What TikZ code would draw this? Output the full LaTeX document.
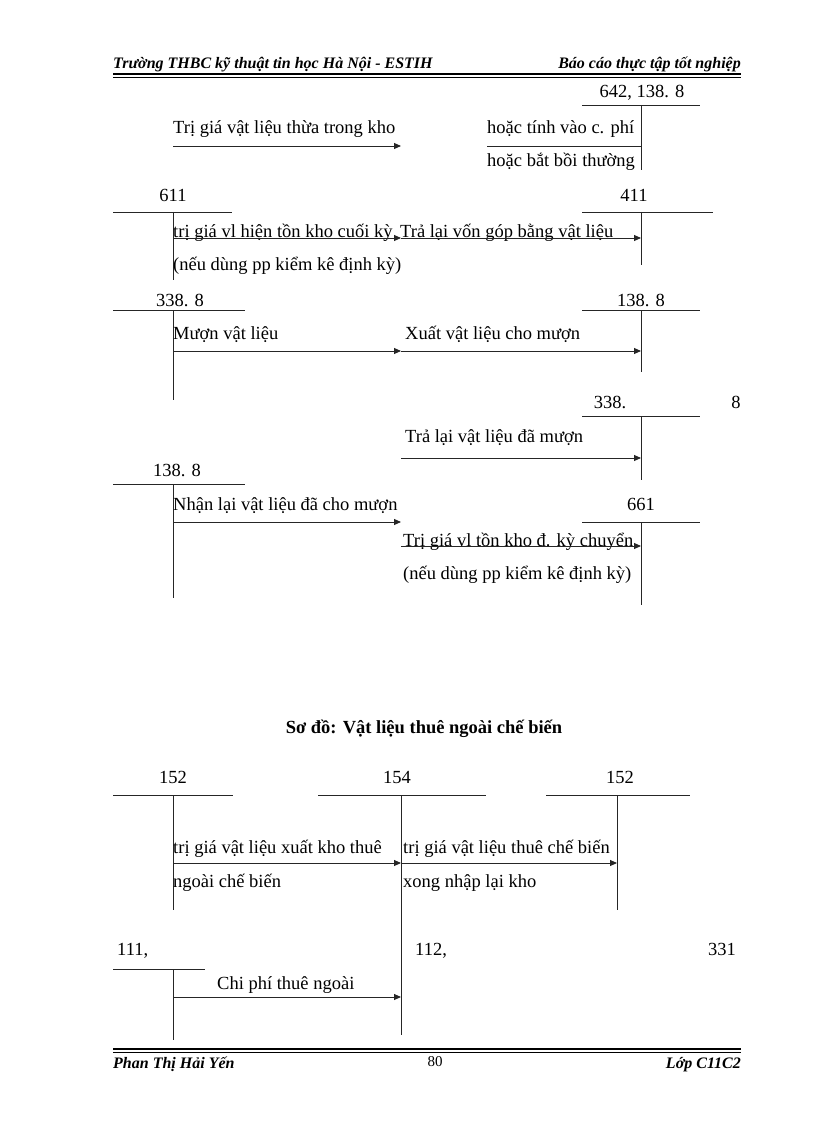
\documentclass[tikz,border=0pt]{standalone}
\usepackage{fontspec}
\setmainfont{Liberation Serif}
\usetikzlibrary{arrows.meta}
\begin{document}
\begin{tikzpicture}[x=1pt,y=-1pt,
  txt/.style={font=\fontsize{18.5}{21}\selectfont,inner sep=0pt,anchor=base west},
  num/.style={font=\fontsize{18.5}{21}\selectfont,inner sep=0pt,anchor=base},
  hdr/.style={font=\fontsize{16}{18}\selectfont\bfseries\itshape,inner sep=0pt},
  acc/.style={line width=0.9pt,black!85},
  arr/.style={line width=0.9pt,black!85,-{Triangle[length=7pt,width=6pt]}}]
\useasboundingbox (0,0) rectangle (816,1123);
% header / footer
\node[hdr,anchor=base west] (h1) at (113,69) {Trường THBC kỹ thuật tin học Hà Nội - ESTIH};
\node[hdr,anchor=base east] (h2) at (741,69) {Báo cáo thực tập tốt nghiệp};
\draw[line width=1.2pt] (113,74) -- (741,74);
\draw[line width=0.5pt] (113,77) -- (741,77);
\draw[line width=1.2pt] (113,1049) -- (741,1049);
\draw[line width=0.5pt] (113,1052) -- (741,1052);
\node[hdr,anchor=base west] (f1) at (113,1068) {Phan Thị Hải Yến};
\node[font=\fontsize{15}{17}\selectfont,inner sep=0pt,anchor=base] (f2) at (435,1066) {80};
\node[hdr,anchor=base east] (f3) at (741,1068) {Lớp C11C2};
% block 1
\node[num] (a1) at (642,98) {642, 138. 8};
\draw[acc] (582,105) -- (700,105); \draw[acc] (641,105) -- (641,170);
\node[txt] (t1) at (173,134) {Trị giá vật liệu thừa trong kho};
\draw[arr] (173,146) -- (401,146);
\node[txt] (t2) at (487,134) {hoặc tính vào c. phí};
\draw[acc] (487,146) -- (641,146);
\node[txt] (t3) at (487,167) {hoặc bắt bồi thường};
% 611 / 411
\node[num] (n611) at (173,202) {611};
\draw[acc] (113,212) -- (232,212); \draw[acc] (173,212) -- (173,280);
\node[num] (n411) at (634,202) {411};
\draw[acc] (582,212) -- (713,212); \draw[acc] (641,212) -- (641,265);
\node[txt] (t4) at (173,237) {trị giá vl hiện tồn kho cuối kỳ};
\node[txt] (t5) at (400,237) {Trả lại vốn góp bằng vật liệu};
\draw[arr] (173,238) -- (401,238); \draw[arr] (401,238) -- (641,238);
\node[txt] (t6) at (173,270) {(nếu dùng pp kiểm kê định kỳ)};
% 338.8 / 138.8
\node[num] (n3388) at (180,306) {338. 8};
\draw[acc] (113,310) -- (245,310); \draw[acc] (173,310) -- (173,400);
\node[num] (n1388) at (641,306) {138. 8};
\draw[acc] (582,310) -- (700,310); \draw[acc] (641,310) -- (641,372);
\node[txt] (t7) at (173,339) {Mượn vật liệu};
\node[txt] (t8) at (405,339) {Xuất vật liệu cho mượn};
\draw[arr] (173,351) -- (401,351); \draw[arr] (401,351) -- (641,351);
% 338. 8 right
\node[num] (n338b) at (610,408) {338.};
\node[num] (n8) at (736,408) {8};
\draw[acc] (582,416) -- (700,416); \draw[acc] (641,416) -- (641,480);
\node[txt] (t9) at (405,442) {Trả lại vật liệu đã mượn};
\draw[arr] (401,458) -- (641,458);
% 138.8 left / 661
\node[num] (n1388b) at (177,476) {138. 8};
\draw[acc] (113,484) -- (245,484); \draw[acc] (173,484) -- (173,598);
\node[txt] (t10) at (173,510) {Nhận lại vật liệu đã cho mượn};
\draw[arr] (173,522) -- (401,522);
\node[num] (n661) at (641,510) {661};
\draw[acc] (582,522) -- (700,522); \draw[acc] (641,522) -- (641,605);
\node[txt] (t11) at (403,546) {Trị giá vl tồn kho đ. kỳ chuyển};
\draw[arr] (401,546) -- (641,546);
\node[txt] (t12) at (403,579) {(nếu dùng pp kiểm kê định kỳ)};
% section 2
\node[font=\fontsize{18.5}{21}\selectfont\bfseries,inner sep=0pt,anchor=base] (title) at (424,733) {Sơ đồ: Vật liệu thuê ngoài chế biến};
\node[num] (s152a) at (173,783) {152};
\draw[acc] (113,795) -- (233,795); \draw[acc] (173,795) -- (173,910);
\node[num] (s154) at (397,783) {154};
\draw[acc] (318,795) -- (486,795); \draw[acc] (401,795) -- (401,1035);
\node[num] (s152b) at (620,783) {152};
\draw[acc] (546,795) -- (690,795); \draw[acc] (617,795) -- (617,910);
\node[txt] (u1) at (173,853) {trị giá vật liệu xuất kho thuê};
\draw[arr] (173,863) -- (401,863);
\node[txt] (u2) at (173,887) {ngoài chế biến};
\node[txt] (u3) at (403,853) {trị giá vật liệu thuê chế biến};
\draw[arr] (401,863) -- (617,863);
\node[txt] (u4) at (403,887) {xong nhập lại kho};
\node[txt] (s111) at (117,955) {111,};
\node[txt] (s112) at (415,955) {112,};
\node[txt] (s331) at (708,955) {331};
\draw[acc] (113,969) -- (205,969); \draw[acc] (173,969) -- (173,1040);
\node[txt] (u5) at (217,989) {Chi phí thuê ngoài};
\draw[arr] (173,997) -- (401,997);
\end{tikzpicture}
\end{document}
